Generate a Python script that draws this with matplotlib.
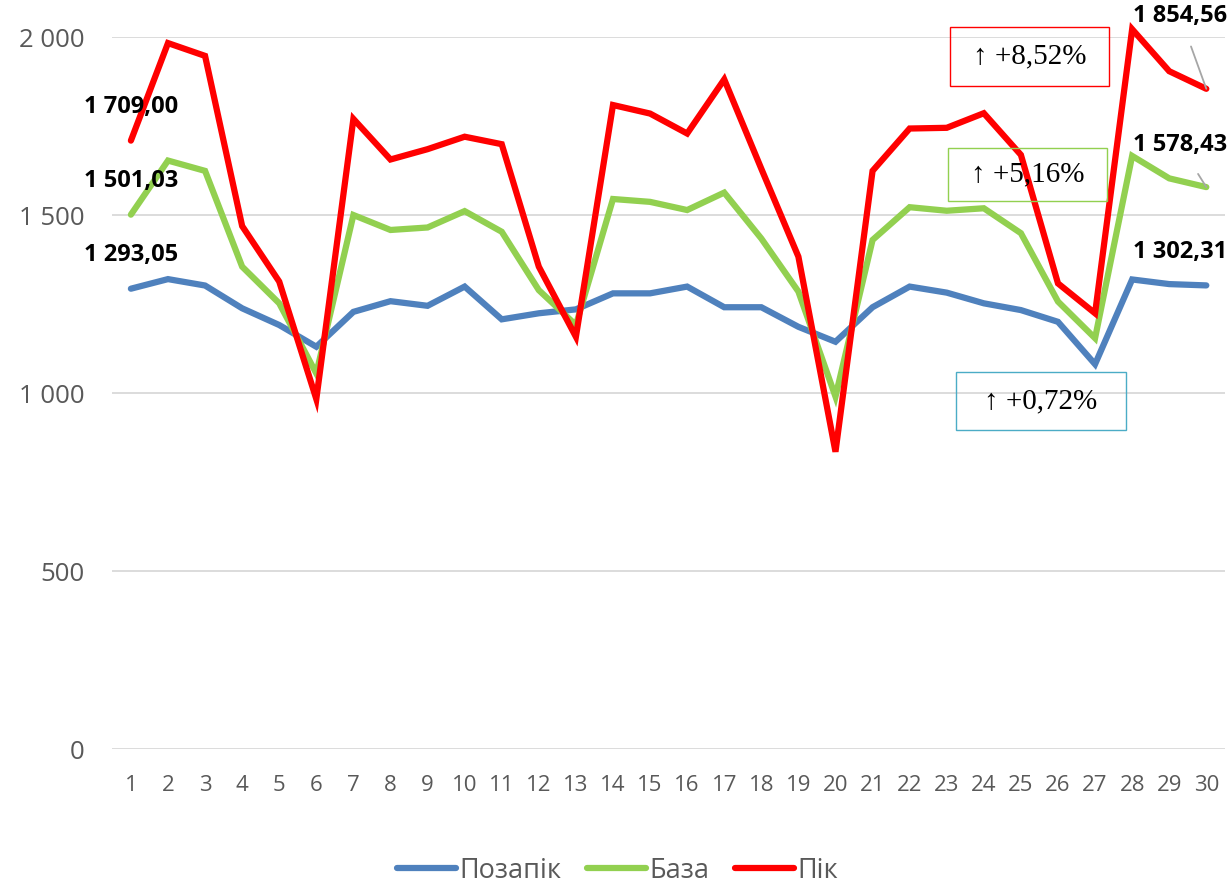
import matplotlib.pyplot as plt

days = list(range(1, 31))

# погодинні навантаження: позапік / база / пік
pozapik = [1293.05, 1320, 1302, 1238, 1191, 1130, 1228, 1258, 1245, 1299,
           1207, 1224, 1235, 1280, 1280, 1299, 1241, 1241, 1186, 1144,
           1241, 1299, 1282, 1252, 1233, 1200, 1081, 1319, 1306, 1302.31]
baza = [1501.03, 1653, 1624, 1355, 1252, 1055, 1500, 1458, 1465, 1511,
        1453, 1289, 1191, 1545, 1537, 1514, 1563, 1434, 1285, 990,
        1430, 1522, 1512, 1519, 1449, 1257, 1154, 1666, 1603, 1578.43]
pik = [1709.00, 1983, 1947, 1469, 1313, 983, 1770, 1656, 1685, 1720,
       1699, 1355, 1158, 1809, 1785, 1729, 1881, 1630, 1383, 835,
       1624, 1743, 1745, 1786, 1669, 1308, 1224, 2022, 1904, 1854.56]

series = [("Позапік", pozapik, "#4f81bd"),
          ("База", baza, "#92d050"),
          ("Пік", pik, "#ff0000")]

changes = ["↑ +8,52%", "↑ +5,16%", "↑ +0,72%"]
change_colors = ["#ff0000", "#92d050", "#4bacc6"]

yticks = [0, 500, 1000, 1500, 2000]
ytick_labels = ["0", "500", "1 000", "1 500", "2 000"]


def fmt(v):
    return f"{v:,.2f}".replace(",", " ").replace(".", ",")


plt.rcParams['font.family'] = ['Open Sans', 'DejaVu Sans']

fig = plt.figure(figsize=(12.32, 8.88), dpi=100)
ax = fig.add_axes([0.0912, 0.1565, 0.9030, 0.8018])

for name, vals, col in series:
    ax.plot(days, vals, color=col, lw=4.5, label=name, clip_on=False,
            solid_joinstyle='miter', solid_capstyle='round', zorder=3)

ax.set_xlim(0.5, 30.5)
ax.set_ylim(0, 2000)
ax.set_yticks(yticks)
ax.set_yticklabels(ytick_labels)
ax.set_xticks(days)
ax.grid(axis='y', color='#d9d9d9', lw=1.3)
ax.set_axisbelow(True)
for sp in ax.spines.values():
    sp.set_visible(False)
ax.tick_params(length=0, colors='#595959')
ax.tick_params(axis='y', labelsize=18.5, pad=20)
ax.tick_params(axis='x', labelsize=16, pad=19)

inv = ax.transData.inverted()


def px(x, y):
    # піксельні координати (від верхнього лівого кута) -> дані
    return inv.transform((x, 888 - y))


# підписи першої та останньої точки
lab_kw = dict(fontsize=17, fontweight='bold', color='black',
              ha='center', va='center', annotation_clip=False,
              textcoords='data')
first_y = [255, 181, 107]
last_y = [252, 145, 16]

for (name, vals, col), fy in zip(series, first_y):
    ax.annotate(fmt(vals[0]), (1, vals[0]), xytext=px(131, fy), **lab_kw)

for (name, vals, col), ly in zip(series, last_y):
    arrow = None
    if name != "Позапік":
        arrow = dict(arrowstyle='-', color='#a6a6a6', lw=1.3,
                     shrinkA=12, shrinkB=0)
    ax.annotate(fmt(vals[-1]), (30, vals[-1]), xytext=px(1180, ly),
                arrowprops=arrow, **lab_kw)

# рамки з приростом
boxes = [(950, 27, 159, 59), (948, 148, 159, 53), (956, 372, 170, 58)]
for (bx, by, bw, bh), txt, col in zip(boxes, changes, change_colors):
    x0, y0 = px(bx, by + bh)
    x1, y1 = px(bx + bw, by)
    ax.add_patch(plt.Rectangle((x0, y0), x1 - x0, y1 - y0, fill=False,
                               edgecolor=col, lw=1, clip_on=False, zorder=5))
    ax.text((x0 + x1) / 2, (y0 + y1) / 2, txt, fontsize=21,
            family=['Liberation Serif', 'DejaVu Serif'], ha='center',
            va='center', color='black', zorder=6)

leg = fig.legend(loc='lower center', bbox_to_anchor=(0.501, -0.024), ncol=3,
                 frameon=False, fontsize=19.5, handlelength=2.2,
                 handletextpad=0.1, columnspacing=0.95)
for t in leg.get_texts():
    t.set_color('#595959')

fig.savefig("out.png", dpi=100)
